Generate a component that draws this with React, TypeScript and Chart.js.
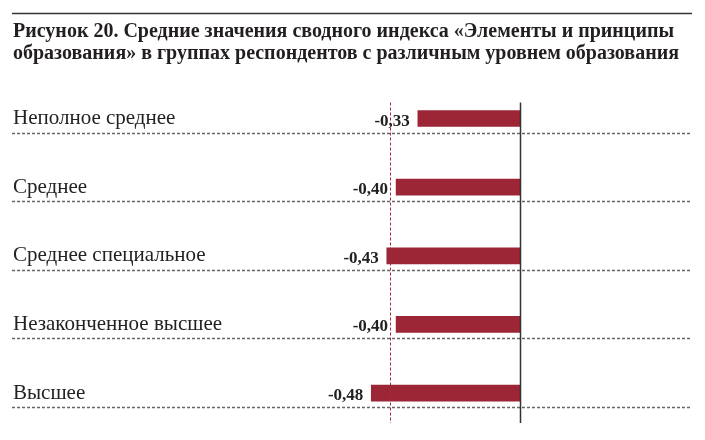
import React, { useEffect, useRef } from "react";
import { Chart, registerables } from "chart.js";

Chart.register(...registerables);

const titleLines = [
  "Рисунок 20. Средние значения сводного индекса «Элементы и принципы",
  "образования» в группах респондентов с различным уровнем образования",
];
const categories = [
  "Неполное среднее",
  "Среднее",
  "Среднее специальное",
  "Незаконченное высшее",
  "Высшее",
];
const values = [-0.33, -0.4, -0.43, -0.4, -0.48];
const valueLabels = ["-0,33", "-0,40", "-0,43", "-0,40", "-0,48"];
const referenceValue = -0.42;

const SERIF = "'Liberation Serif', 'Times New Roman', serif";

const decorPlugin = {
  id: "decor",
  beforeDraw(chart: any) {
    const ctx = chart.ctx;
    ctx.save();
    ctx.strokeStyle = "#333";
    ctx.lineWidth = 1.5;
    ctx.beginPath();
    ctx.moveTo(12, 13.5);
    ctx.lineTo(692, 13.5);
    ctx.stroke();
    // dashed row rules
    const y = chart.scales.y;
    ctx.strokeStyle = "#666";
    ctx.lineWidth = 1.3;
    ctx.setLineDash([3, 2]);
    categories.forEach((_, i) => {
      const py = Math.round(y.getPixelForValue(i) + 14) + 0.5;
      ctx.beginPath();
      ctx.moveTo(12, py);
      ctx.lineTo(692, py);
      ctx.stroke();
    });
    ctx.restore();
  },
  afterDatasetsDraw(chart: any) {
    const ctx = chart.ctx;
    const x = chart.scales.x;
    const y = chart.scales.y;
    const top = y.getPixelForValue(0) - 16;
    const bottom = y.getPixelForValue(categories.length - 1) + 30;
    ctx.save();
    // reference dashed line
    const rx = Math.round(x.getPixelForValue(referenceValue)) + 0.5;
    ctx.strokeStyle = "#a3283c";
    ctx.lineWidth = 1;
    ctx.setLineDash([3, 2]);
    ctx.beginPath();
    ctx.moveTo(rx, top);
    ctx.lineTo(rx, bottom);
    ctx.stroke();
    // zero line
    const zx = Math.round(x.getPixelForValue(0)) + 0.5;
    ctx.setLineDash([]);
    ctx.strokeStyle = "#333";
    ctx.lineWidth = 1.5;
    ctx.beginPath();
    ctx.moveTo(zx, top);
    ctx.lineTo(zx, bottom);
    ctx.stroke();
    // value labels
    ctx.fillStyle = "#222";
    ctx.font = "bold 17px " + SERIF;
    ctx.textAlign = "right";
    ctx.textBaseline = "alphabetic";
    values.forEach((v, i) => {
      const bx = x.getPixelForValue(v);
      const by = y.getPixelForValue(i);
      ctx.fillText(valueLabels[i], bx - 8, by + 7);
    });
    ctx.restore();
  },
};

export default function App() {
  const ref = useRef<HTMLCanvasElement | null>(null);
  useEffect(() => {
    if (!ref.current) return;
    const chart = new Chart(ref.current, {
      type: "bar",
      data: {
        labels: categories,
        datasets: [
          {
            data: values,
            backgroundColor: "#9c2536",
            borderWidth: 0,
            barThickness: 16,
          },
        ],
      },
      options: {
        indexAxis: "y",
        animation: false,
        responsive: true,
        maintainAspectRatio: false,
        layout: { padding: { left: 13, right: 14, top: 0, bottom: 12 } },
        plugins: {
          legend: { display: false },
          tooltip: { enabled: false },
          title: {
            display: true,
            text: titleLines,
            align: "start",
            color: "#231f20",
            font: { family: SERIF, size: 20, weight: "bold", lineHeight: 1.08 },
            padding: { top: 21, bottom: 20 },
          },
        },
        scales: {
          x: {
            display: false,
            min: -0.7,
            max: 0.55,
          },
          y: {
            position: "left",
            grid: { display: false },
            border: { display: false },
            ticks: {
              crossAlign: "far",
              color: "#222",
              padding: 0,
              font: { family: SERIF, size: 21 },
            },
            afterFit(scale: any) {
              scale.width = 290;
            },
          },
        },
      },
      plugins: [decorPlugin],
    });
    return () => chart.destroy();
  }, []);
  return (
    <div style={{ position: "fixed", left: 0, top: 0, width: 705, height: 440, background: "#fff" }}>
      <canvas ref={ref} />
    </div>
  );
}
